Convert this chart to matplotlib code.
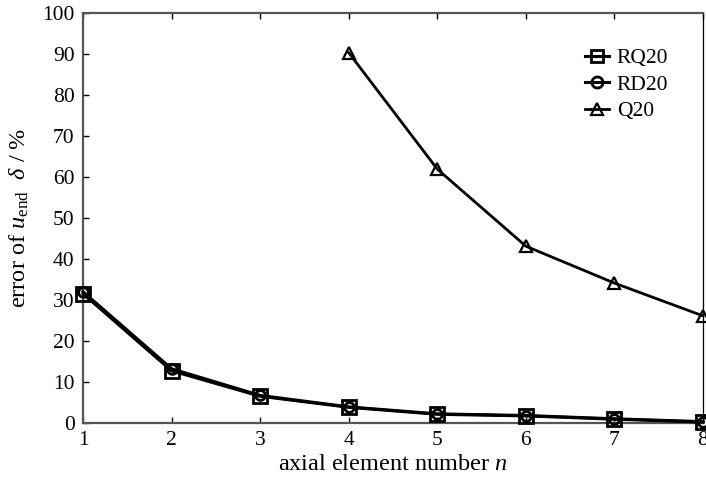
import matplotlib
matplotlib.use("Agg")
import matplotlib.pyplot as plt

# data
n = [1, 2, 3, 4, 5, 6, 7, 8]
rq20 = [31.5, 12.7, 6.5, 3.8, 2.1, 1.7, 0.9, 0.2]
rd20 = [32.0, 13.2, 6.7, 3.9, 2.2, 1.8, 1.0, 0.3]
n_q20 = [4, 5, 6, 7, 8]
q20 = [90.3, 61.9, 43.1, 34.1, 26.1]

plt.rcParams["font.family"] = ["Liberation Serif", "DejaVu Serif"]
plt.rcParams["mathtext.fontset"] = "custom"
plt.rcParams["mathtext.rm"] = "Liberation Serif"
plt.rcParams["mathtext.it"] = "Liberation Serif:italic"

fig = plt.figure(figsize=(7.06, 4.8), dpi=100)
ax = fig.add_axes([0.1176, 0.119, 0.8782, 0.854])

common = dict(color="black", lw=2.2, markersize=10, markerfacecolor="none",
              markeredgewidth=2.0, clip_on=False, zorder=3)
ax.plot(n, rq20, marker="s", label="RQ20", **common)
ax.plot(n, rd20, marker="o", label="RD20", **dict(common, markersize=7))
ax.plot(n_q20, q20, marker="^", label="Q20", **dict(common, lw=2.0, markersize=9, markeredgewidth=1.6))

ax.set_xlim(1, 8)
ax.set_ylim(0, 100)
ax.set_xticks(range(1, 9))
ax.set_yticks(range(0, 101, 10))
ax.tick_params(direction="in", length=4, width=1, labelsize=15.5, colors="black", pad=6)
ax.tick_params(top=True, right=False)

for side in ["left", "bottom", "top"]:
    ax.spines[side].set_color("#555555")
    ax.spines[side].set_linewidth(1.6)
ax.spines["right"].set_color("black")
ax.spines["right"].set_linewidth(0.9)

ax.set_xlabel("axial element number $n$", fontsize=17.5, labelpad=3)
ax.set_ylabel(r"error of $u_{\mathrm{end}}$  $\delta$ / %", fontsize=17.5, labelpad=8)

leg = ax.legend(loc="upper left", bbox_to_anchor=(0.795, 0.935), frameon=False,
                fontsize=15.5, handlelength=1.15, handletextpad=0.35, labelspacing=0.3,
                borderaxespad=0)
for h in leg.legend_handles:
    h.set_markersize(8)

fig.savefig("out.png", dpi=100)
